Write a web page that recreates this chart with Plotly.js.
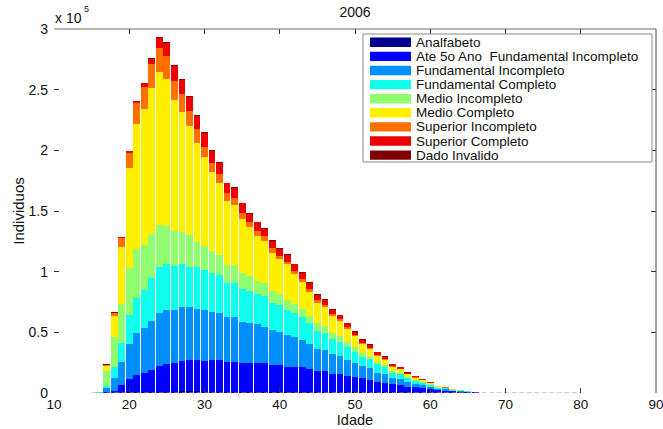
<!DOCTYPE html>
<html>
<head>
<meta charset="utf-8">
<script src="https://cdn.plot.ly/plotly-3.0.1.min.js"></script>
<style>html,body{margin:0;padding:0;background:#fff;}#chart{width:663px;height:429px;}</style>
</head>
<body>
<div id="chart"></div>
<script>
// ---- data ----
const ages = [15,16,17,18,19,20,21,22,23,24,25,26,27,28,29,30,31,32,33,34,35,36,37,38,39,40,41,42,43,44,45,46,47,48,49,50,51,52,53,54,55,56,57,58,59,60,61,62,63,64,65,66,67,68,69,70,71,72,73,74,75,76,77,78,79,80];

const analfabeto = [0,0,100,100,300,500,700,800,800,1000,
  1200,1200,1300,1300,1300,1200,1200,1200,1200,1200,
  1200,1200,1200,1200,1200,1200,1200,1200,1200,1100,
  1100,1100,1000,1000,1000,800,800,800,700,700,
  600,600,500,400,400,300,200,200,100,100,
  100,50,100,0,0,
  0,0,0,0,0,0,0,0,0,0,0];

const ate5oAno = [0,100,600,1500,6000,10800,13900,15900,18200,21500,
  22500,23500,25100,25900,25600,25500,26000,26000,24600,24100,
  23300,23300,23300,23300,21900,21900,20500,20500,20000,18700,
  17300,17300,14700,14700,13300,12700,11300,9900,8600,7800,
  6800,6000,4700,4200,3600,3000,2000,1700,1200,900,
  600,400,200,100,0,
  0,0,0,0,0,0,0,0,0,0,0];

const fundIncompleto = [50,200,3300,10500,19300,28800,34600,36600,40400,43700,
  44700,43700,44500,43700,42300,41800,39800,39000,36600,37100,
  34000,33000,32100,30200,28800,27400,26100,24200,22500,20600,
  17900,17000,16200,15100,12900,11500,10200,9700,7500,7200,
  5200,4700,3900,3100,2600,2000,1300,1100,700,600,
  500,300,0,0,0,
  0,0,0,0,0,0,0,0,0,0,0];

const fundCompleto = [100,200,1900,9100,15900,24200,29400,31600,35100,37700,
  37700,36600,35700,33000,34700,33000,31700,31100,28500,28500,
  27000,26600,24800,25300,22500,22000,20600,19800,18700,17100,
  15100,14300,12600,11500,10500,9100,7700,7400,7100,5500,
  4200,4000,3000,2400,2000,1500,1000,800,600,400,
  300,50,0,0,0,
  0,0,0,0,0,0,0,0,0,0,0];

const medioIncompleto = [0,100,12300,25200,31900,39000,39900,37100,36800,34800,
  31800,28300,26100,26400,20800,19800,18400,16200,14600,14600,
  13200,12400,10900,10400,9900,8900,8300,7700,6600,6200,
  6100,5500,4700,4700,4100,4100,2700,2200,1900,1600,
  1300,1000,800,700,500,400,300,200,200,200,
  100,0,0,0,0,
  0,0,0,0,0,0,0,0,0,0,0];

const medioCompleto = [100,300,4000,17300,47200,82400,103300,111900,120100,125700,
  121000,108000,99200,89700,81700,72900,65100,59400,52800,49500,
  44700,40100,37400,35200,31400,28800,29400,24400,22800,19800,
  16900,15400,14300,12400,11000,8800,7400,6000,4900,4500,
  3700,3300,2700,1900,1400,1100,600,500,300,200,
  100,0,0,100,0,
  0,0,0,0,0,0,0,0,0,0,0];

const superiorIncompleto = [0,100,800,2000,7200,12400,17500,18400,19600,20000,
  18700,16200,14400,12500,11000,8800,7700,7600,6300,6000,
  5200,4600,4100,3800,3600,2700,2200,2800,1900,2500,
  2300,1900,1600,1600,1900,800,900,800,600,500,
  400,400,400,300,200,200,200,300,100,100,
  0,0,0,0,0,
  0,0,0,0,0,0,0,0,0,0,0];

const superiorCompleto = [50,100,300,600,400,1200,1200,3000,4600,8500,
  10500,11700,11800,11300,10800,11200,9600,9000,8100,7900,
  7600,6500,6800,5800,6200,6000,5400,5400,5500,4800,
  4200,4500,3600,3000,2800,2800,3000,2800,2100,2000,
  1300,1100,800,700,600,400,200,100,50,0,
  0,0,0,0,50,
  0,0,0,0,0,0,0,0,0,0,0];

const dadoInvalido = [20,30,200,200,200,200,200,500,800,800,
  1000,1000,1000,1000,1000,800,800,700,700,700,
  700,700,600,600,600,600,600,600,600,500,
  500,500,500,500,500,500,500,500,400,500,
  400,300,300,300,200,100,100,100,50,0,
  0,0,0,0,0,
  0,0,0,0,0,0,0,0,0,0,0];

const seriesNames = ['Analfabeto','Ate 5o Ano  Fundamental Incompleto','Fundamental Incompleto',
  'Fundamental Completo','Medio Incompleto','Medio Completo','Superior Incompleto',
  'Superior Completo','Dado Invalido'];
const seriesValues = [analfabeto, ate5oAno, fundIncompleto, fundCompleto, medioIncompleto,
  medioCompleto, superiorIncompleto, superiorCompleto, dadoInvalido];
const seriesColors = ['#00008F','#0000FF','#008FFF','#10FFEF','#8FFF70','#FFF000','#FF7000','#EF0000','#800000'];

const xTicks = [10,20,30,40,50,60,70,80,90];
const yTickVals = [0,50000,100000,150000,200000,250000,300000];
const yTickText = ['0','0.5','1','1.5','2','2.5','3'];

// ---- geometry ----
const W = 663, H = 429;
const M = {l:54, r:7, t:29, b:36};
const pw = W - M.l - M.r, ph = H - M.t - M.b;
const px2x = p => (p - M.l) / pw;
const py2y = p => (H - M.b - p) / ph;
const FONT = 'Liberation Sans, Arial, Helvetica, sans-serif';

const traces = seriesNames.map((name, i) => ({
  type: 'bar', name: name, x: ages, y: seriesValues[i],
  marker: {color: seriesColors[i], line: {width: 0}},
  showlegend: false, hoverinfo: 'skip'
}));
// zero baseline of the empty bars (dashed look)
traces.push({
  type: 'scatter', mode: 'lines', x: ages, y: ages.map(() => 0),
  line: {color: '#E08A8A', width: 1.2, dash: '5px,2.5px'},
  showlegend: false, hoverinfo: 'skip', cliponaxis: false
});

// ---- custom legend ----
const shapes = [
  {type:'line', xref:'paper', yref:'paper', x0:0, x1:1, y0:1, y1:1, line:{color:'#6a6a6a', width:1}},
  {type:'line', xref:'paper', yref:'paper', x0:1, x1:1, y0:0, y1:1, line:{color:'#4a4a4a', width:1}},
  {type:'rect', xref:'paper', yref:'paper', x0:px2x(363), x1:px2x(652), y0:py2y(162), y1:py2y(34),
   fillcolor:'#ffffff', line:{color:'#8a8a8a', width:1}}
];
const annotations = [
  {xref:'paper', yref:'paper', x:px2x(53), y:py2y(18), xanchor:'left', yanchor:'middle',
   text:'x 10', showarrow:false, font:{family:FONT, size:14, color:'#111'}},
  {xref:'paper', yref:'paper', x:px2x(82), y:py2y(9), xanchor:'left', yanchor:'middle',
   text:'5', showarrow:false, font:{family:FONT, size:9, color:'#111'}}
];
seriesNames.forEach((name, i) => {
  const cy = 42.3 + 14.1 * i;
  shapes.push({type:'rect', xref:'paper', yref:'paper', x0:px2x(370), x1:px2x(411),
    y0:py2y(cy + 4.7), y1:py2y(cy - 4.7), fillcolor:seriesColors[i], line:{width:0}});
  annotations.push({xref:'paper', yref:'paper', x:px2x(414), y:py2y(cy), xanchor:'left', yanchor:'middle',
    text:name.replace(/  /g, '\u00a0 '), showarrow:false, font:{family:FONT, size:13.5, color:'#111'}});
});

const layout = {
  width: W, height: H, autosize: false,
  margin: {l:M.l, r:M.r, t:M.t, b:M.b, pad:0},
  paper_bgcolor: '#fff', plot_bgcolor: '#fff',
  barmode: 'stack', bargap: 0.1,
  font: {family: FONT, size: 14, color: '#111'},
  title: {text: '2006', font: {family: FONT, size: 14, color: '#111'},
          xref: 'paper', x: 0.5, xanchor: 'center', yref: 'container', y: 1 - 12/H, yanchor: 'middle'},
  xaxis: {range: [10, 90], tickvals: xTicks, ticks: 'inside', ticklen: 5, tickcolor: '#333',
          mirror: 'ticks', showline: false, showgrid: false, zeroline: false,
          ticklabeloverflow: 'allow', ticklabelstandoff: 1,
          tickfont: {family: FONT, size: 13.5, color: '#111'},
          title: {text: 'Idade', font: {family: FONT, size: 14.5, color: '#111'}, standoff: 4},
          automargin: false, fixedrange: true},
  yaxis: {range: [0, 300000], tickvals: yTickVals, ticktext: yTickText, ticks: 'inside', ticklen: 5,
          tickcolor: '#333', mirror: 'ticks', showline: false, showgrid: false, zeroline: false,
          ticklabelstandoff: 5,
          tickfont: {family: FONT, size: 14, color: '#111'},
          title: {text: 'Individuos', font: {family: FONT, size: 15, color: '#111'}, standoff: 0},
          automargin: false, fixedrange: true},
  shapes: shapes,
  annotations: annotations
};

Plotly.newPlot('chart', traces, layout, {displayModeBar: false, staticPlot: true});
</script>
</body>
</html>
